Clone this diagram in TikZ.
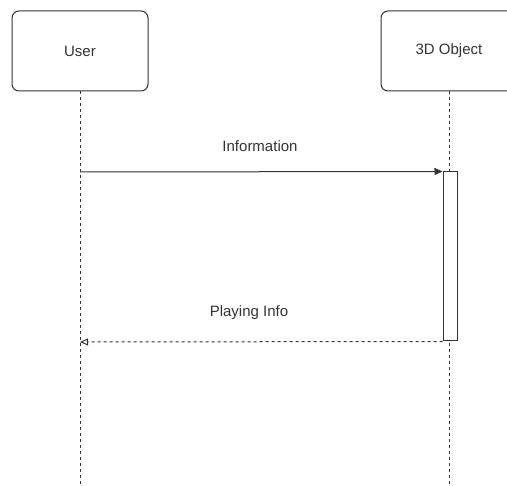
\documentclass[tikz,border=0pt]{standalone}
\usepackage{fontspec}
\setmainfont{Liberation Sans}
\usetikzlibrary{arrows.meta}
\definecolor{ln}{HTML}{333333}
\tikzset{
  actor/.style={draw=ln, line width=1pt, rounded corners=7pt, fill=white, minimum width=136pt, minimum height=80pt, inner sep=0pt, font=\fontsize{15}{17}\selectfont, text=ln},
  life/.style={draw=ln, line width=0.9pt, dash pattern=on 3pt off 3pt},
  act/.style={draw=ln, line width=1pt, fill=white, minimum width=14pt, minimum height=169pt, inner sep=0pt},
  msg/.style={draw=ln, line width=1pt, -{Triangle[length=8pt,width=7pt]}},
  ret/.style={draw=ln, line width=1pt, dash pattern=on 3pt off 3pt, -{Triangle[open,length=8pt,width=7pt]}},
  lbl/.style={font=\fontsize{15}{17}\selectfont, text=ln}
}
\begin{document}
\begin{tikzpicture}[x=1pt,y=-1pt]
\useasboundingbox (0,0) rectangle (507,486);
\coordinate (uend) at (80,490);
\coordinate (oend) at (449,490);
\draw[life] (80,91) -- (uend);
\draw[life] (449,91) -- (oend);
\node[actor] (user) at (80,51) {User};
\node[actor] (obj) at (449,51) {3D Object};
\node[act] (bar) at (450,256.5) {};
\coordinate (ustart) at (80,172);
\coordinate (uret) at (80,342);
\draw[msg] (ustart) -- (bar.north west);
\draw[ret] (bar.south west) -- (uret);
\node[lbl] (info) at (260,146) {Information};
\node[lbl] (play) at (249,313) {Playing Info};
\end{tikzpicture}
\end{document}
